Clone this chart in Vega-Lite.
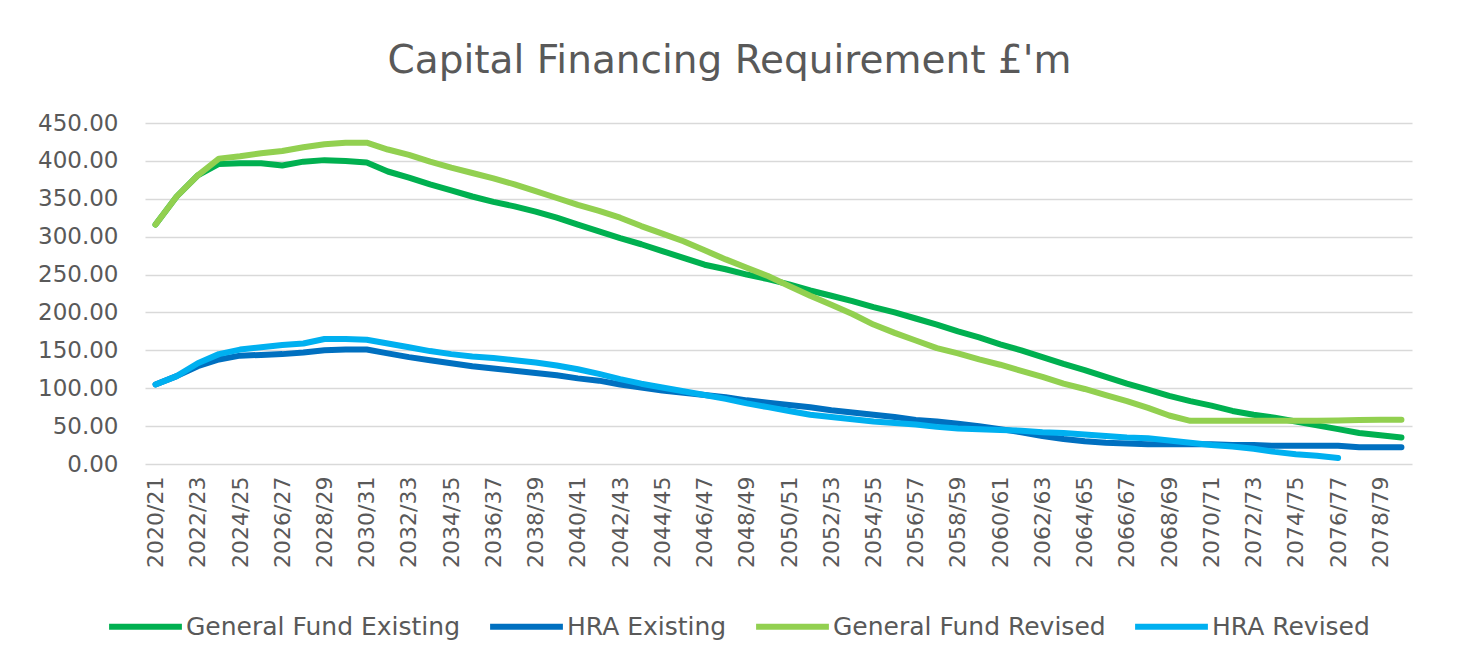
{
  "$schema": "https://vega.github.io/schema/vega-lite/v6.json",
  "width": 1267,
  "height": 341,
  "autosize": {"type": "none"},
  "padding": {"left": 145, "top": 123, "right": 46, "bottom": 202},
  "background": "white",
  "title": {
    "text": "Capital Financing Requirement £'m",
    "font": "DejaVu Sans",
    "fontSize": 39,
    "fontWeight": "normal",
    "color": "#595959",
    "anchor": "middle",
    "dx": -49,
    "offset": 31
  },
  "data": {
    "values": [
      {"year": "2020/21", "General Fund Existing": 316, "HRA Existing": 105, "General Fund Revised": 316, "HRA Revised": 105},
      {"year": "2021/22", "General Fund Existing": 353, "HRA Existing": 116, "General Fund Revised": 353, "HRA Revised": 116},
      {"year": "2022/23", "General Fund Existing": 381, "HRA Existing": 129, "General Fund Revised": 381, "HRA Revised": 133},
      {"year": "2023/24", "General Fund Existing": 396, "HRA Existing": 138, "General Fund Revised": 403, "HRA Revised": 145},
      {"year": "2024/25", "General Fund Existing": 397, "HRA Existing": 143, "General Fund Revised": 406, "HRA Revised": 151},
      {"year": "2025/26", "General Fund Existing": 397, "HRA Existing": 144, "General Fund Revised": 410, "HRA Revised": 154},
      {"year": "2026/27", "General Fund Existing": 394, "HRA Existing": 145, "General Fund Revised": 413, "HRA Revised": 157},
      {"year": "2027/28", "General Fund Existing": 399, "HRA Existing": 147, "General Fund Revised": 418, "HRA Revised": 159},
      {"year": "2028/29", "General Fund Existing": 401, "HRA Existing": 150, "General Fund Revised": 422, "HRA Revised": 165},
      {"year": "2029/30", "General Fund Existing": 400, "HRA Existing": 151, "General Fund Revised": 424, "HRA Revised": 165},
      {"year": "2030/31", "General Fund Existing": 398, "HRA Existing": 151, "General Fund Revised": 424, "HRA Revised": 164},
      {"year": "2031/32", "General Fund Existing": 386, "HRA Existing": 146, "General Fund Revised": 415, "HRA Revised": 159},
      {"year": "2032/33", "General Fund Existing": 378, "HRA Existing": 141, "General Fund Revised": 408, "HRA Revised": 154},
      {"year": "2033/34", "General Fund Existing": 369, "HRA Existing": 137, "General Fund Revised": 399, "HRA Revised": 149},
      {"year": "2034/35", "General Fund Existing": 361, "HRA Existing": 133, "General Fund Revised": 391, "HRA Revised": 145},
      {"year": "2035/36", "General Fund Existing": 353, "HRA Existing": 129, "General Fund Revised": 384, "HRA Revised": 142},
      {"year": "2036/37", "General Fund Existing": 346, "HRA Existing": 126, "General Fund Revised": 377, "HRA Revised": 140},
      {"year": "2037/38", "General Fund Existing": 340, "HRA Existing": 123, "General Fund Revised": 369, "HRA Revised": 137},
      {"year": "2038/39", "General Fund Existing": 333, "HRA Existing": 120, "General Fund Revised": 360, "HRA Revised": 134},
      {"year": "2039/40", "General Fund Existing": 325, "HRA Existing": 117, "General Fund Revised": 351, "HRA Revised": 130},
      {"year": "2040/41", "General Fund Existing": 316, "HRA Existing": 113, "General Fund Revised": 342, "HRA Revised": 125},
      {"year": "2041/42", "General Fund Existing": 307, "HRA Existing": 110, "General Fund Revised": 334, "HRA Revised": 119},
      {"year": "2042/43", "General Fund Existing": 298, "HRA Existing": 105, "General Fund Revised": 325, "HRA Revised": 112},
      {"year": "2043/44", "General Fund Existing": 290, "HRA Existing": 101, "General Fund Revised": 314, "HRA Revised": 106},
      {"year": "2044/45", "General Fund Existing": 281, "HRA Existing": 97, "General Fund Revised": 304, "HRA Revised": 101},
      {"year": "2045/46", "General Fund Existing": 272, "HRA Existing": 94, "General Fund Revised": 294, "HRA Revised": 96},
      {"year": "2046/47", "General Fund Existing": 263, "HRA Existing": 91, "General Fund Revised": 282, "HRA Revised": 91},
      {"year": "2047/48", "General Fund Existing": 257, "HRA Existing": 88, "General Fund Revised": 270, "HRA Revised": 86},
      {"year": "2048/49", "General Fund Existing": 250, "HRA Existing": 84, "General Fund Revised": 259, "HRA Revised": 80},
      {"year": "2049/50", "General Fund Existing": 244, "HRA Existing": 81, "General Fund Revised": 248, "HRA Revised": 75},
      {"year": "2050/51", "General Fund Existing": 237, "HRA Existing": 78, "General Fund Revised": 235, "HRA Revised": 70},
      {"year": "2051/52", "General Fund Existing": 229, "HRA Existing": 75, "General Fund Revised": 222, "HRA Revised": 65},
      {"year": "2052/53", "General Fund Existing": 222, "HRA Existing": 71, "General Fund Revised": 210, "HRA Revised": 62},
      {"year": "2053/54", "General Fund Existing": 215, "HRA Existing": 68, "General Fund Revised": 198, "HRA Revised": 59},
      {"year": "2054/55", "General Fund Existing": 207, "HRA Existing": 65, "General Fund Revised": 184, "HRA Revised": 56},
      {"year": "2055/56", "General Fund Existing": 200, "HRA Existing": 62, "General Fund Revised": 173, "HRA Revised": 54},
      {"year": "2056/57", "General Fund Existing": 192, "HRA Existing": 58, "General Fund Revised": 163, "HRA Revised": 52},
      {"year": "2057/58", "General Fund Existing": 184, "HRA Existing": 56, "General Fund Revised": 153, "HRA Revised": 49},
      {"year": "2058/59", "General Fund Existing": 175, "HRA Existing": 53, "General Fund Revised": 146, "HRA Revised": 47},
      {"year": "2059/60", "General Fund Existing": 167, "HRA Existing": 50, "General Fund Revised": 138, "HRA Revised": 46},
      {"year": "2060/61", "General Fund Existing": 158, "HRA Existing": 46, "General Fund Revised": 131, "HRA Revised": 45},
      {"year": "2061/62", "General Fund Existing": 150, "HRA Existing": 42, "General Fund Revised": 123, "HRA Revised": 44},
      {"year": "2062/63", "General Fund Existing": 141, "HRA Existing": 37, "General Fund Revised": 115, "HRA Revised": 42},
      {"year": "2063/64", "General Fund Existing": 132, "HRA Existing": 33, "General Fund Revised": 106, "HRA Revised": 41},
      {"year": "2064/65", "General Fund Existing": 124, "HRA Existing": 30, "General Fund Revised": 99, "HRA Revised": 39},
      {"year": "2065/66", "General Fund Existing": 115, "HRA Existing": 28, "General Fund Revised": 91, "HRA Revised": 37},
      {"year": "2066/67", "General Fund Existing": 106, "HRA Existing": 27, "General Fund Revised": 83, "HRA Revised": 35},
      {"year": "2067/68", "General Fund Existing": 98, "HRA Existing": 26, "General Fund Revised": 74, "HRA Revised": 34},
      {"year": "2068/69", "General Fund Existing": 90, "HRA Existing": 26, "General Fund Revised": 64, "HRA Revised": 31},
      {"year": "2069/70", "General Fund Existing": 83, "HRA Existing": 26, "General Fund Revised": 57, "HRA Revised": 28},
      {"year": "2070/71", "General Fund Existing": 77, "HRA Existing": 26, "General Fund Revised": 57, "HRA Revised": 25},
      {"year": "2071/72", "General Fund Existing": 70, "HRA Existing": 25, "General Fund Revised": 57, "HRA Revised": 23},
      {"year": "2072/73", "General Fund Existing": 65, "HRA Existing": 25, "General Fund Revised": 57, "HRA Revised": 20},
      {"year": "2073/74", "General Fund Existing": 61, "HRA Existing": 24, "General Fund Revised": 57, "HRA Revised": 16},
      {"year": "2074/75", "General Fund Existing": 56, "HRA Existing": 24, "General Fund Revised": 57, "HRA Revised": 13},
      {"year": "2075/76", "General Fund Existing": 51, "HRA Existing": 24, "General Fund Revised": 57, "HRA Revised": 11},
      {"year": "2076/77", "General Fund Existing": 46, "HRA Existing": 24, "General Fund Revised": 57.5, "HRA Revised": 8},
      {"year": "2077/78", "General Fund Existing": 41, "HRA Existing": 22, "General Fund Revised": 58, "HRA Revised": null},
      {"year": "2078/79", "General Fund Existing": 38, "HRA Existing": 22, "General Fund Revised": 58.5, "HRA Revised": null},
      {"year": "2079/80", "General Fund Existing": 35, "HRA Existing": 22, "General Fund Revised": 58.5, "HRA Revised": null}
    ]
  },
  "transform": [
    {"fold": ["General Fund Existing", "HRA Existing", "General Fund Revised", "HRA Revised"], "as": ["series", "value"]}
  ],
  "mark": {"type": "line", "strokeWidth": 6, "strokeCap": "round", "strokeJoin": "round"},
  "encoding": {
    "x": {
      "field": "year",
      "type": "ordinal",
      "sort": null,
      "scale": {"type": "point", "padding": 0.5},
      "axis": {
        "title": null,
        "labelAngle": -90,
        "labelFont": "DejaVu Sans",
        "labelFontSize": 22,
        "labelColor": "#595959",
        "labelPadding": 12,
        "ticks": false,
        "tickSize": 0,
        "domain": false,
        "grid": false,
        "labelOverlap": false,
        "values": ["2020/21","2022/23","2024/25","2026/27","2028/29","2030/31","2032/33","2034/35","2036/37","2038/39","2040/41","2042/43","2044/45","2046/47","2048/49","2050/51","2052/53","2054/55","2056/57","2058/59","2060/61","2062/63","2064/65","2066/67","2068/69","2070/71","2072/73","2074/75","2076/77","2078/79"]
      }
    },
    "y": {
      "field": "value",
      "type": "quantitative",
      "scale": {"domain": [0, 450], "nice": false},
      "axis": {
        "title": null,
        "values": [0, 50, 100, 150, 200, 250, 300, 350, 400, 450],
        "format": ".2f",
        "labelFont": "DejaVu Sans",
        "labelFontSize": 23,
        "labelColor": "#595959",
        "labelPadding": 27,
        "ticks": false,
        "tickSize": 0,
        "domain": false,
        "grid": true,
        "gridColor": "#D9D9D9",
        "gridWidth": 1.5
      }
    },
    "color": {
      "field": "series",
      "type": "nominal",
      "scale": {
        "domain": ["General Fund Existing", "HRA Existing", "General Fund Revised", "HRA Revised"],
        "range": ["#00B050", "#0070C0", "#92D050", "#00B0F0"]
      },
      "legend": {
        "title": null,
        "orient": "none",
        "direction": "horizontal",
        "legendX": -39,
        "legendY": 464,
        "padding": 0,
        "symbolType": "stroke",
        "symbolSize": 5300,
        "symbolStrokeWidth": 6,
        "labelFont": "DejaVu Sans",
        "labelFontSize": 25,
        "labelColor": "#595959",
        "labelOffset": 1,
        "columnPadding": 17,
        "labelLimit": 0
      }
    }
  },
  "config": {"view": {"stroke": null}}
}
